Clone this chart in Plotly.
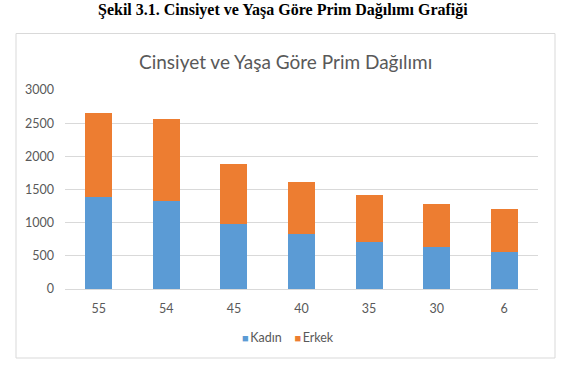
import plotly.graph_objects as go

categories = ["55", "54", "45", "40", "35", "30", "6"]
kadin = [1380, 1320, 985, 828, 712, 632, 562]
erkek = [1270, 1250, 897, 788, 708, 653, 643]
y_ticks = [0, 500, 1000, 1500, 2000, 2500, 3000]
series_names = ["Kadın", "Erkek"]
series_colors = ["#5B9BD5", "#ED7D31"]

W, H = 565, 375
L, R, T, B = 65, 27, 90, 86
pw, ph = W - L - R, H - T - B

def px(x):
    return (x - L) / pw

def py(y):
    return (H - B - y) / ph

fig = go.Figure()
for name, vals, col in zip(series_names, [kadin, erkek], series_colors):
    fig.add_trace(go.Bar(name=name, x=categories, y=vals, marker_color=col,
                         marker_line_width=0, showlegend=False))

fig.update_layout(
    width=W, height=H,
    margin=dict(l=L, r=R, t=T, b=B),
    barmode="stack", bargap=0.6,
    paper_bgcolor="white", plot_bgcolor="white",
    font=dict(family="Lato", color="#595959", size=12),
    xaxis=dict(type="category", showgrid=False, showline=False, ticks="",
               tickfont=dict(size=12.5, color="#595959"), ticklabelstandoff=10),
    yaxis=dict(range=[0, 3000], tickvals=y_ticks, showgrid=True, gridcolor="#D9D9D9",
               gridwidth=1, zeroline=True, zerolinecolor="#D9D9D9", zerolinewidth=1,
               showline=False, ticks="", tickfont=dict(size=12.5, color="#595959"),
               ticklabelstandoff=10),
)

fig.add_shape(type="rect", xref="paper", yref="paper",
              x0=px(16), x1=px(555), y0=py(358), y1=py(33.5),
              line=dict(color="#D9D9D9", width=1), fillcolor="rgba(0,0,0,0)", layer="below")

# legend drawn as compact text entries
legend_text = "&nbsp;&nbsp;&nbsp;&nbsp;".join(
    f"<span style='color:{c};font-size:11px'>■</span>&#8201;{n}"
    for n, c in zip(series_names, series_colors)
)
fig.add_annotation(text=legend_text, xref="paper", yref="paper",
                   x=px(288), y=py(337), xanchor="center", yanchor="middle", showarrow=False,
                   font=dict(family="Lato", size=12.5, color="#595959"))

fig.add_annotation(text="Cinsiyet ve Yaşa Göre Prim Dağılımı", xref="paper", yref="paper",
                   x=px(285), y=py(61.5), xanchor="center", yanchor="middle", showarrow=False,
                   font=dict(family="Lato", size=19, color="#595959"))

fig.add_annotation(text="<b>Şekil 3.1. Cinsiyet ve Yaşa Göre Prim Dağılımı Grafiği</b>",
                   xref="paper", yref="paper",
                   x=px(283), y=py(0), xanchor="center", yanchor="top", showarrow=False,
                   borderpad=0,
                   font=dict(family="Liberation Serif", size=16, color="black"))

fig.write_html("out.html")
